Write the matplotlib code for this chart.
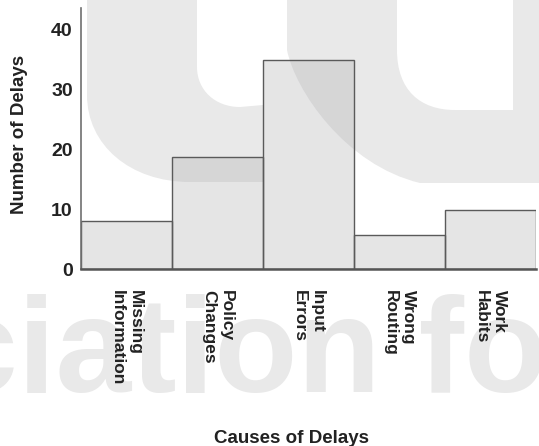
import matplotlib
matplotlib.use("Agg")

import matplotlib.pyplot as plt
from matplotlib.path import Path
from matplotlib.patches import PathPatch
from matplotlib.transforms import ScaledTranslation

causes = ["Missing\nInformation", "Policy\nChanges", "Input\nErrors", "Wrong\nRouting", "Work\nHabits"]
delays = [8.0, 18.6, 34.8, 5.6, 9.8]
y_ticks = [0, 10, 20, 30, 40]

FONT = ["Liberation Sans", "DejaVu Sans"]
WM = "#e9e9e9"
INK = "#222222"

fig = plt.figure(figsize=(5.39, 4.46), dpi=100)

# faint watermark behind everything, drawn in pixel coordinates
bg = fig.add_axes([0, 0, 1, 1], zorder=-1)
bg.set_xlim(0, 539)
bg.set_ylim(446, 0)
bg.axis("off")

M, L, C = Path.MOVETO, Path.LINETO, Path.CURVE4
u1 = Path(
    [(87, -5), (87, 95), (87, 145), (130, 182), (190, 182), (263, 182), (263, 105),
     (240, 107), (215, 107), (197, 90), (197, 67), (197, -5), (87, -5)],
    [M, L, C, C, C, L, L, L, C, C, C, L, L])
u2 = Path(
    [(287, -5), (287, 50), (295, 90), (345, 165), (420, 183), (545, 183), (545, -5),
     (513, -5), (513, 110), (455, 110), (420, 110), (397, 90), (397, 50), (397, -5), (287, -5)],
    [M, L, C, C, C, L, L, L, L, L, C, C, C, L, L])
for p in (u1, u2):
    bg.add_patch(PathPatch(p, facecolor=WM, edgecolor="none"))
bg.text(-58, 392, "ciation for", fontsize=98, fontweight="bold", family=FONT,
        color=WM, va="baseline", ha="left")

ax = fig.add_axes([81 / 539, 177 / 446, 455 / 539, 261 / 446])
ax.set_facecolor("none")
x = range(len(causes))
ax.bar(x, delays, width=1.0, color="#acacae", alpha=0.31, edgecolor="none")
ax.bar(x, delays, width=1.0, fill=False, edgecolor="#5a5a5a", linewidth=1.0)

ax.set_xlim(-0.5, len(causes) - 0.5)
ax.set_ylim(0, 43.5)
for side in ("top", "right"):
    ax.spines[side].set_visible(False)
ax.spines["left"].set_color("#707070")
ax.spines["left"].set_linewidth(1.2)
ax.spines["bottom"].set_color("#555555")
ax.spines["bottom"].set_linewidth(1.8)

ax.set_yticks(y_ticks)
ax.set_yticklabels([str(v) for v in y_ticks], fontsize=14, fontweight="bold",
                   family=FONT, color=INK)
shift = ScaledTranslation(0, 0.06, fig.dpi_scale_trans)
for lab in ax.get_yticklabels():
    lab.set_transform(lab.get_transform() + shift)

ax.set_xticks(list(x))
ax.set_xticklabels(causes, rotation=-90, va="top", ha="center", multialignment="left",
                   fontsize=12.5, fontweight="bold", family=FONT, color=INK,
                   linespacing=1.2)
ax.tick_params(axis="both", length=0)
ax.tick_params(axis="y", pad=6)
ax.tick_params(axis="x", pad=15)

fig.text(20 / 539, 1 - 134 / 446, "Number of Delays", rotation=90, ha="center", va="center",
         fontsize=13.5, fontweight="bold", family=FONT, color=INK)
fig.text(292 / 539, 3 / 446, "Causes of Delays", ha="center", va="baseline",
         fontsize=13.5, fontweight="bold", family=FONT, color=INK)

fig.savefig("out.png", dpi=100)
